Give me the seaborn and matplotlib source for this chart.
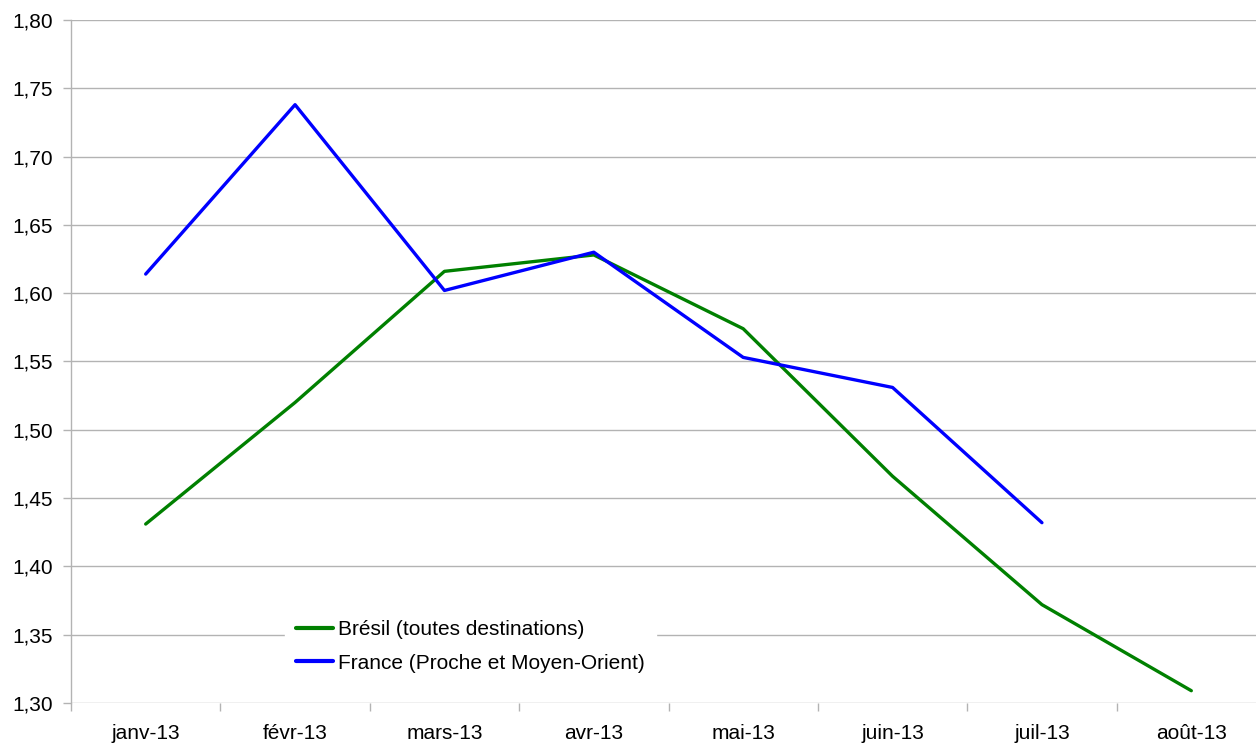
import numpy as np
import pandas as pd
import matplotlib
matplotlib.use("Agg")
import matplotlib.pyplot as plt
from matplotlib.ticker import FixedLocator, FuncFormatter
import seaborn as sns

months = ["janv-13", "févr-13", "mars-13", "avr-13", "mai-13", "juin-13", "juil-13", "août-13"]
bresil = [1.431, 1.520, 1.616, 1.628, 1.574, 1.466, 1.372, 1.309]
france = [1.614, 1.738, 1.602, 1.630, 1.553, 1.531, 1.432, np.nan]
series_names = ["Brésil (toutes destinations)", "France (Proche et Moyen-Orient)"]
series_colors = ["#008000", "#0000ff"]

sns.set_theme(style="white")
plt.rcParams["font.family"] = ["Liberation Sans", "DejaVu Sans"]
plt.rcParams["text.color"] = "black"

fig = plt.figure(figsize=(12.56, 7.45), dpi=100)
W, H = 1256, 745
ax = fig.add_axes([71 / W, 1 - 703 / H, (1266 - 71) / W, (703 - 20) / H])

x = np.arange(len(months))
df = pd.DataFrame({
    "pos": np.concatenate([x, x]),
    "val": bresil + france,
    "serie": [series_names[0]] * len(months) + [series_names[1]] * len(months),
})

sns.lineplot(data=df, x="pos", y="val", hue="serie", palette=series_colors,
             linewidth=2.4, ax=ax, legend=True, estimator=None, sort=False)

ax.set_xlim(-0.5, len(months) - 0.5)
ax.set_ylim(1.30, 1.80)
ax.set_yticks(np.arange(1.30, 1.801, 0.05))
ax.yaxis.set_major_formatter(FuncFormatter(lambda v, p: f"{v:.2f}".replace(".", ",")))
ax.set_xticks(x)
ax.set_xticklabels(months)
ax.xaxis.set_minor_locator(FixedLocator(np.arange(-0.5, len(months), 1.0)))
ax.set_xlabel("")
ax.set_ylabel("")

ax.grid(axis="y", color="#b3b3b3", linewidth=1.0)
ax.set_axisbelow(True)
for s in ["top", "right", "bottom"]:
    ax.spines[s].set_visible(False)
ax.spines["left"].set_color("#b3b3b3")
ax.spines["left"].set_linewidth(1.0)

ax.tick_params(axis="y", which="major", length=6, width=1, color="#b3b3b3",
               labelsize=15, labelcolor="black", pad=7, left=True)
ax.tick_params(axis="x", which="major", length=0, labelsize=15, labelcolor="black", pad=15)
ax.tick_params(axis="x", which="minor", length=6, width=1, color="#b3b3b3", bottom=True)

leg = ax.legend(loc="lower left", bbox_to_anchor=((285 - 71) / 1195, (703 - 684) / 683),
                frameon=True, fontsize=15, handlelength=1.75, handletextpad=0.25,
                labelspacing=0.7, borderpad=0.55, borderaxespad=0)
leg.get_frame().set_facecolor("white")
leg.get_frame().set_edgecolor("white")
leg.get_frame().set_alpha(1.0)
leg.get_frame().set_boxstyle("square", pad=0)
for line in leg.get_lines():
    line.set_linewidth(3.0)
for t in leg.get_texts():
    t.set_color("black")

fig.savefig("out.png", dpi=100, facecolor="white")
